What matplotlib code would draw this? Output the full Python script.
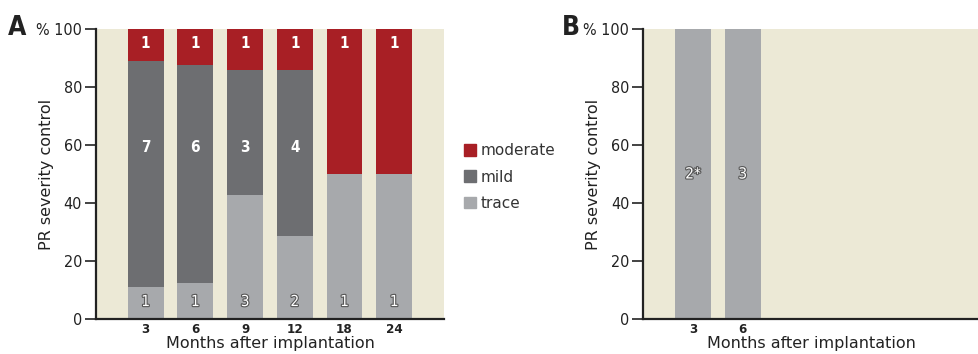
import matplotlib.pyplot as plt
import matplotlib.patheffects as pe
from matplotlib.patches import Patch
import numpy as np

# data (patient counts per follow-up)
months_a = ['3', '6', '9', '12', '18', '24']
trace_a = [1, 1, 3, 2, 1, 1]
mild_a = [7, 6, 3, 4, 0, 0]
moderate_a = [1, 1, 1, 1, 1, 1]

months_b = ['3', '6']
trace_b = [100, 100]
labels_b = ['2*', '3']

yticks = [0, 20, 40, 60, 80, 100]
yticklabels = ['0', '20', '40', '60', '80', '% 100']

c_mod = '#A81F25'
c_mild = '#6D6E71'
c_trace = '#A7A9AC'
c_bg = '#ECE9D6'
narrow = dict(family='DejaVu Sans', stretch='condensed')

plt.rcParams['font.family'] = ['DejaVu Sans']

fig = plt.figure(figsize=(9.79, 3.54), dpi=100)
ax1 = fig.add_axes([0.098, 0.099, 0.3555, 0.819])
ax2 = fig.add_axes([0.657, 0.099, 0.343, 0.819])

outline = [pe.withStroke(linewidth=1.6, foreground='#555555')]


def style(ax, xlabels, ylab_x):
    ax.set_facecolor(c_bg)
    ax.set_ylim(0, 100)
    ax.set_yticks(yticks)
    ax.set_yticklabels(yticklabels, fontsize=11.5, color='#222222', **narrow)
    ax.set_xticks(range(len(xlabels)))
    ax.set_xticklabels(xlabels, fontsize=9.5, fontweight='bold', color='#222222', **narrow)
    ax.tick_params(axis='y', length=8, width=1.2, direction='out', color='#222222', pad=2)
    ax.tick_params(axis='x', length=0, pad=3)
    for s in ['top', 'right']:
        ax.spines[s].set_visible(False)
    for s in ['left', 'bottom']:
        ax.spines[s].set_linewidth(1.6)
        ax.spines[s].set_color('#222222')
    ax.set_ylabel('PR severity control', fontsize=11.5, color='#222222')
    ax.yaxis.set_label_coords(ylab_x, 0.5)
    ax.set_xlabel('Months after implantation', fontsize=11.5, color='#222222', labelpad=0)


# panel A
x = np.arange(len(months_a))
tot = np.array(trace_a) + np.array(mild_a) + np.array(moderate_a)
p_tr = np.array(trace_a) / tot * 100
p_mi = np.array(mild_a) / tot * 100
p_mo = np.array(moderate_a) / tot * 100
w = 0.72
ax1.bar(x, p_tr, w, color=c_trace)
ax1.bar(x, p_mi, w, bottom=p_tr, color=c_mild)
ax1.bar(x, p_mo, w, bottom=p_tr + p_mi, color=c_mod)
for i in x:
    ax1.text(i, 95, str(moderate_a[i]), ha='center', va='center', color='white',
             fontsize=11, fontweight='bold', **narrow)
    if mild_a[i] > 0:
        ax1.text(i, 59, str(mild_a[i]), ha='center', va='center', color='white',
                 fontsize=11, fontweight='bold', **narrow)
    ax1.text(i, 6, str(trace_a[i]), ha='center', va='center', color='white',
             fontsize=11, path_effects=outline, **narrow)
ax1.set_xlim(-1, 6)
style(ax1, months_a, -0.12)

# panel B
xb = np.arange(len(months_b))
ax2.bar(xb, trace_b, w, color=c_trace)
for i in xb:
    ax2.text(i, 50, labels_b[i], ha='center', va='center', color='white',
             fontsize=11, path_effects=outline, **narrow)
ax2.set_xlim(-1, 5.75)
style(ax2, months_b, -0.125)

# legend
handles = [Patch(color=c_mod, label='moderate'), Patch(color=c_mild, label='mild'),
           Patch(color=c_trace, label='trace')]
fig.legend(handles=handles, loc='center left', bbox_to_anchor=(0.46, 0.50),
           frameon=False, fontsize=11, handlelength=0.8, handleheight=0.8,
           handletextpad=0.3, labelspacing=0.75, labelcolor='#333333')

fig.text(0.008, 0.90, 'A', fontsize=19, fontweight='bold', color='#222222', **narrow)
fig.text(0.574, 0.90, 'B', fontsize=19, fontweight='bold', color='#222222', **narrow)

fig.savefig('out.png', dpi=100)
